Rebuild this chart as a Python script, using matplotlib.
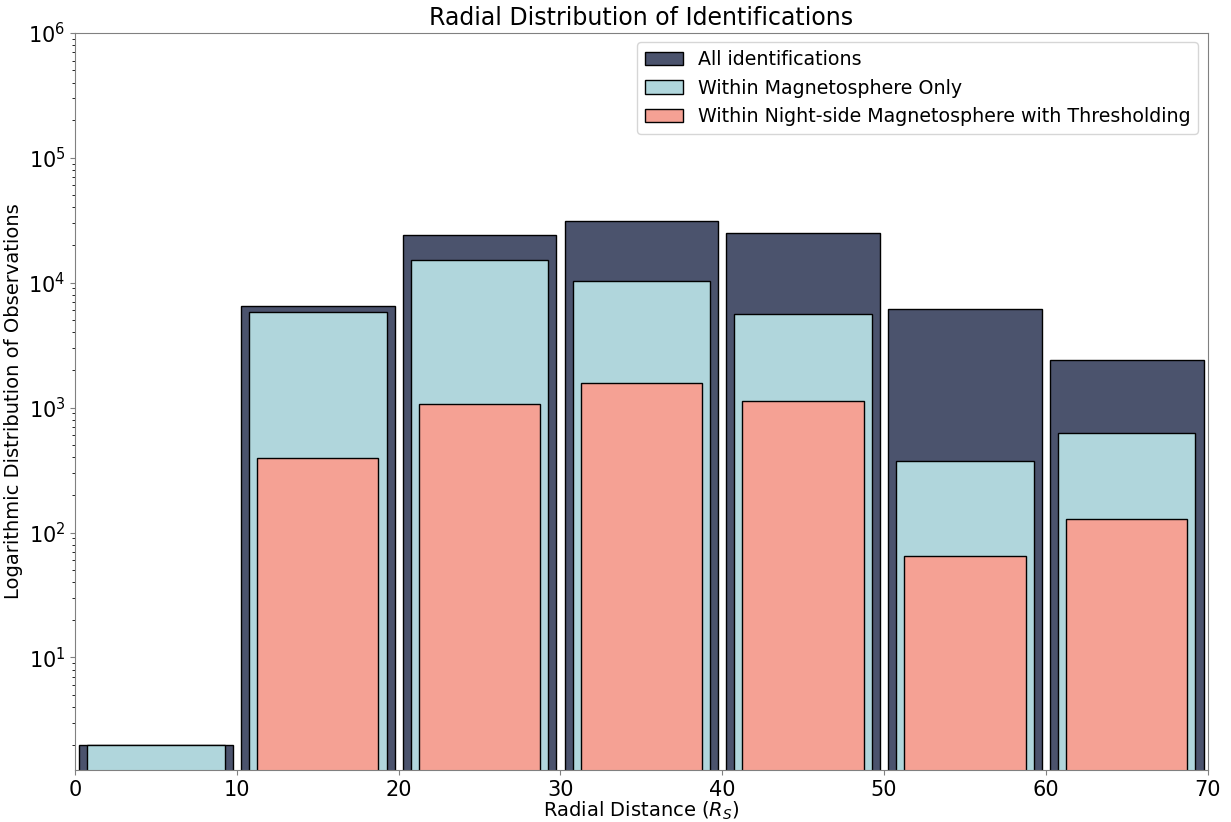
import numpy as np
import matplotlib.pyplot as plt

# radial bins (in Saturn radii) and counts per bin
bin_edges = [0, 10, 20, 30, 40, 50, 60, 70]
all_counts = [2, 6550, 24200, 31300, 25100, 6200, 2390]
magnetosphere_counts = [2, 5870, 15300, 10400, 5660, 371, 630]
nightside_counts = [0, 392, 1077, 1580, 1137, 65, 129]

labels = ['All identifications',
          'Within Magnetosphere Only',
          'Within Night-side Magnetosphere with Thresholding']
colors = ['#4b536d', '#b0d6dc', '#f5a194']
rwidths = [0.95, 0.85, 0.75]

edges = np.array(bin_edges)
centers = (edges[:-1] + edges[1:]) / 2

fig, ax = plt.subplots(figsize=(12.31, 8.22), dpi=100)
for counts, label, color, rw in zip(
        [all_counts, magnetosphere_counts, nightside_counts], labels, colors, rwidths):
    ax.hist(centers, bins=edges, weights=counts, rwidth=rw, color=color,
            edgecolor='black', linewidth=1, label=label, log=True)

ax.set_xlim(0, 70)
ax.set_ylim(1.25, 1e6)
ax.set_title('Radial Distribution of Identifications', fontsize=17)
ax.set_xlabel('Radial Distance ($R_S$)', fontsize=14, labelpad=0)
ax.set_ylabel('Logarithmic Distribution of Observations', fontsize=14)
ax.tick_params(labelsize=15, color='gray')
for s in ax.spines.values():
    s.set_color('gray')
ax.legend(loc='upper right', fontsize=13.7)

fig.subplots_adjust(left=0.061, right=0.981, top=0.96, bottom=0.063)
fig.savefig('out.png')
